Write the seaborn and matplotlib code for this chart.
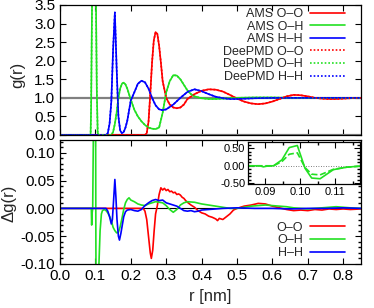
import numpy as np
import pandas as pd
import matplotlib
matplotlib.use("Agg")
import matplotlib.pyplot as plt
from matplotlib.ticker import MultipleLocator, FormatStrFormatter
import seaborn as sns

# --- g(r) of AMS (DeePMD curves lie on top of these) ---
r_oo = [0.0, 0.24, 0.245, 0.25, 0.255, 0.26, 0.265, 0.27, 0.275, 0.28, 0.285, 0.29, 0.30,
        0.31, 0.32, 0.33, 0.34, 0.35, 0.36, 0.38, 0.40, 0.42, 0.44, 0.46, 0.48, 0.50, 0.52,
        0.54, 0.56, 0.58, 0.60, 0.62, 0.64, 0.66, 0.68, 0.70, 0.72, 0.74, 0.76, 0.78, 0.80,
        0.82, 0.85]
g_oo = [0.0, 0.0, 0.05, 0.35, 1.1, 1.95, 2.55, 2.77, 2.72, 2.4, 1.95, 1.45, 1.0,
        0.82, 0.74, 0.72, 0.74, 0.82, 0.97, 1.1, 1.19, 1.23, 1.22, 1.17, 1.08, 0.98, 0.9,
        0.85, 0.83, 0.85, 0.9, 0.97, 1.04, 1.08, 1.07, 1.04, 1.0, 0.98, 0.97, 0.97, 0.98,
        0.99, 1.0]

r_oh = [0.0, 0.085, 0.0865, 0.088, 0.0905, 0.093, 0.096, 0.098, 0.1, 0.102, 0.104, 0.1065,
        0.11, 0.145, 0.15, 0.155, 0.16, 0.165, 0.17, 0.175, 0.18, 0.185, 0.19, 0.195, 0.20,
        0.21, 0.22, 0.23, 0.24, 0.25, 0.26, 0.27, 0.28, 0.29, 0.30, 0.31, 0.32, 0.33, 0.34,
        0.35, 0.36, 0.37, 0.38, 0.40, 0.42, 0.44, 0.46, 0.48, 0.50, 0.55, 0.60, 0.65, 0.70,
        0.75, 0.80, 0.85]
g_oh = [0.0, 0.0, 0.02, 0.8, 3.5, 9.0, 14.0, 14.5, 10.0, 3.2, 1.2, 0.05,
        0.0, 0.0, 0.08, 0.3, 0.6, 1.0, 1.25, 1.38, 1.41, 1.36, 1.25, 1.1, 0.95,
        0.68, 0.5, 0.37, 0.27, 0.2, 0.17, 0.16, 0.2, 0.6, 1.15, 1.45, 1.61, 1.6, 1.5,
        1.35, 1.2, 1.1, 1.04, 0.99, 0.97, 0.97, 0.98, 0.99, 1.0, 1.01, 1.01, 1.0, 1.0,
        1.0, 1.0, 1.0]

r_hh = [0.0, 0.13, 0.135, 0.14, 0.145, 0.15, 0.155, 0.16, 0.165, 0.17, 0.175, 0.18, 0.185,
        0.19, 0.20, 0.21, 0.22, 0.23, 0.24, 0.25, 0.26, 0.27, 0.28, 0.29, 0.30, 0.32, 0.34,
        0.36, 0.38, 0.40, 0.42, 0.44, 0.46, 0.48, 0.50, 0.55, 0.60, 0.65, 0.70, 0.75, 0.80,
        0.85]
g_hh = [0.0, 0.0, 0.05, 0.3, 0.9, 2.3, 3.3, 1.8, 0.5, 0.12, 0.05, 0.08, 0.2,
        0.38, 0.93, 1.15, 1.38, 1.46, 1.42, 1.25, 1.0, 0.8, 0.69, 0.67, 0.69, 0.82, 1.0,
        1.16, 1.23, 1.18, 1.1, 1.03, 0.99, 0.97, 0.97, 0.99, 1.0, 1.0, 1.0, 1.0, 1.0,
        1.0]

# --- delta g(r) ---
r_doo = [0.0, 0.23, 0.235, 0.24, 0.245, 0.25, 0.255, 0.258, 0.262, 0.266, 0.27, 0.275, 0.28,
         0.285, 0.29, 0.295, 0.30, 0.305, 0.31, 0.315, 0.32, 0.325, 0.33, 0.335, 0.34, 0.345,
         0.35, 0.355, 0.36, 0.37, 0.38, 0.39, 0.40, 0.41, 0.42, 0.43, 0.44, 0.445, 0.45, 0.46,
         0.47, 0.48, 0.49, 0.50, 0.52, 0.54, 0.56, 0.58, 0.60, 0.62, 0.64, 0.66, 0.68, 0.70,
         0.72, 0.74, 0.76, 0.78, 0.80, 0.82, 0.85]
dg_oo = [0.0, 0.0, 0.0, -0.005, -0.02, -0.05, -0.08, -0.09, -0.075, -0.04, -0.01, 0.005, 0.025,
         0.037, 0.033, 0.036, 0.032, 0.034, 0.03, 0.031, 0.028, 0.029, 0.025, 0.026, 0.024, 0.02,
         0.018, 0.014, 0.011, 0.006, 0.002, -0.004, -0.008, -0.01, -0.014, -0.016, -0.019, -0.022,
         -0.018, -0.02, -0.015, -0.01, -0.003, 0.0, 0.004, 0.006, 0.009, 0.008, 0.004, 0.001,
         -0.002, -0.004, -0.003, -0.004, -0.002, -0.003, -0.001, -0.002, -0.001, -0.002, -0.001]

r_doh = [0.0, 0.085, 0.0885, 0.0895, 0.0905, 0.0924, 0.0948, 0.0969, 0.0992, 0.1014, 0.1033,
         0.1057, 0.1095, 0.1133, 0.117, 0.12, 0.125, 0.13, 0.135, 0.14, 0.145, 0.15, 0.155,
         0.16, 0.165, 0.17, 0.175, 0.18, 0.185, 0.19, 0.195, 0.20, 0.21, 0.22, 0.23, 0.24,
         0.25, 0.26, 0.27, 0.28, 0.29, 0.30, 0.31, 0.32, 0.33, 0.34, 0.35, 0.36, 0.38, 0.40,
         0.42, 0.44, 0.46, 0.48, 0.50, 0.52, 0.54, 0.56, 0.58, 0.60, 0.62, 0.64, 0.66, 0.68,
         0.70, 0.72, 0.74, 0.76, 0.78, 0.80, 0.82, 0.85]
dg_oh = [0.0, 0.0, 0.0, -0.03, -0.01, 0.0, 0.17, 0.52, 0.58, -0.07, -0.35,
         -0.37, -0.11, -0.04, -0.01, -0.004, -0.002, -0.004, -0.008, -0.014, -0.022, -0.034, -0.04,
         -0.044, -0.043, -0.033, -0.018, -0.002, 0.01, 0.016, 0.019, 0.015, 0.012, 0.008, 0.006, 0.005,
         0.008, 0.01, 0.012, 0.011, 0.01, 0.005, -0.002, -0.007, -0.002, 0.006, 0.01, 0.012, 0.011, 0.008,
         0.006, 0.004, 0.002, 0.0, 0.0, 0.002, 0.004, 0.005, 0.006, 0.005, 0.004, 0.003, 0.001, 0.0,
         -0.001, 0.0, 0.001, 0.002, 0.003, 0.002, 0.001, 0.0]

r_dhh = [0.0, 0.13, 0.135, 0.14, 0.145, 0.148, 0.151, 0.155, 0.158, 0.161, 0.165, 0.168, 0.172,
         0.176, 0.18, 0.185, 0.19, 0.20, 0.21, 0.22, 0.23, 0.24, 0.25, 0.26, 0.27, 0.28, 0.29,
         0.30, 0.31, 0.32, 0.33, 0.34, 0.35, 0.36, 0.37, 0.38, 0.39, 0.40, 0.42, 0.44, 0.46,
         0.50, 0.55, 0.60, 0.65, 0.70, 0.75, 0.80, 0.85]
dg_hh = [0.0, 0.0, -0.005, -0.015, -0.028, -0.02, 0.01, 0.052, 0.02, -0.02, -0.05, -0.057, -0.045,
         -0.03, -0.015, -0.006, -0.003, -0.002, -0.004, -0.005, -0.002, 0.005, 0.01, 0.014, 0.016,
         0.014, 0.015, 0.01, 0.008, 0.006, 0.004, 0.0, -0.004, -0.005, -0.004, -0.006, -0.005,
         -0.003, -0.002, -0.001, 0.0, 0.001, 0.0, 0.0, -0.001, 0.0, 0.0, 0.001, 0.0]

# inset: second (dashed) O-H difference
r_inset = [0.085, 0.0924, 0.0948, 0.0969, 0.0992, 0.1014, 0.1033, 0.1057, 0.1095, 0.1133, 0.117]
dg_oh_dash = [0.0, 0.0, 0.12, 0.33, 0.37, -0.05, -0.24, -0.26, -0.1, -0.04, -0.01]

RED, GREEN, BLUE = "#ff0000", "#22e022", "#0000ff"

sns.set_theme(style="ticks")
plt.rcParams["font.family"] = ["Liberation Sans", "DejaVu Sans"]
plt.rcParams.update({
    "font.size": 9,
    "xtick.direction": "in", "ytick.direction": "in",
    "xtick.top": True, "ytick.right": True,
    "xtick.major.size": 4, "ytick.major.size": 4,
    "xtick.minor.size": 2, "ytick.minor.size": 2,
    "xtick.major.width": 0.8, "ytick.major.width": 0.8,
    "axes.linewidth": 0.9, "axes.edgecolor": "black",
    "xtick.color": "black", "ytick.color": "black",
    "axes.unicode_minus": True,
})

fig = plt.figure(figsize=(3.74, 3.08), dpi=100)
ax1 = fig.add_axes([0.1604, 0.5617, 0.8046, 0.4221])
ax2 = fig.add_axes([0.1604, 0.1429, 0.8046, 0.4026])

# top panel
ax1.axhline(1.0, color="#808080", lw=1.6, zorder=1)
ax1.axhline(0.0, color="#808080", lw=1.6, zorder=1)
series = [("O\u2013O", r_oo, g_oo, RED), ("O\u2013H", r_oh, g_oh, GREEN), ("H\u2013H", r_hh, g_hh, BLUE)]
for name, r, g, c in series:
    sns.lineplot(x=r, y=g, ax=ax1, color=c, lw=1.2, label=f"AMS {name}", estimator=None)
for name, r, g, c in series:
    sns.lineplot(x=r, y=g, ax=ax1, color=c, lw=1.2, ls=(0, (1, 1.2)), label=f"DeePMD {name}",
                 estimator=None)
ax1.set_xlim(0, 0.85)
ax1.set_ylim(0, 3.5)
ax1.xaxis.set_major_locator(MultipleLocator(0.1))
ax1.yaxis.set_major_locator(MultipleLocator(0.5))
ax1.yaxis.set_major_formatter(FormatStrFormatter("%.1f"))
ax1.tick_params(labelbottom=False)
ax1.set_xlabel("")
ax1.set_ylabel("g(r)")
ax1.yaxis.set_label_coords(-0.116, 0.46)
ax1.legend(loc="upper right", bbox_to_anchor=(0.947, 0.977), frameon=False, markerfirst=False,
           borderpad=0, borderaxespad=0, handlelength=2.8, handletextpad=0.55,
           labelspacing=0.05, fontsize=9)

# bottom panel
ax2.axhline(0.0, color="black", lw=0.8, zorder=1)
dseries = [("O\u2013O", r_doo, dg_oo, RED), ("O\u2013H", r_doh, dg_oh, GREEN), ("H\u2013H", r_dhh, dg_hh, BLUE)]
for name, r, d, c in dseries:
    sns.lineplot(x=r, y=d, ax=ax2, color=c, lw=1.2, label=name, estimator=None)
ax2.set_xlim(0, 0.85)
ax2.set_ylim(-0.1, 0.123)
ax2.xaxis.set_major_locator(MultipleLocator(0.1))
ax2.xaxis.set_major_formatter(FormatStrFormatter("%.1f"))
ax2.yaxis.set_major_locator(MultipleLocator(0.05))
ax2.yaxis.set_minor_locator(MultipleLocator(0.01))
ax2.yaxis.set_major_formatter(FormatStrFormatter("%.2f"))
ax2.set_xlabel("r [nm]")
ax2.xaxis.set_label_coords(0.5, -0.2)
ax2.set_ylabel("\u0394g(r)")
ax2.yaxis.set_label_coords(-0.143, 0.49)
ax2.legend(loc="lower right", bbox_to_anchor=(0.947, 0.04), frameon=False, markerfirst=False,
           borderpad=0, borderaxespad=0, handlelength=2.8, handletextpad=0.55,
           labelspacing=0.05, fontsize=9)

# inset
axi = fig.add_axes([0.663, 0.4026, 0.2995, 0.1364])
axi.axhline(0.0, color="#555555", lw=0.6, ls=(0, (1, 2)), zorder=1)
sns.lineplot(x=r_doh, y=dg_oh, ax=axi, color=GREEN, lw=1.2, estimator=None)
sns.lineplot(x=r_inset, y=dg_oh_dash, ax=axi, color=GREEN, lw=1.2, ls="--", estimator=None)
axi.set_xlim(0.0851, 0.1171)
axi.set_ylim(-0.52, 0.68)
axi.xaxis.set_major_locator(MultipleLocator(0.01))
axi.xaxis.set_minor_locator(MultipleLocator(0.005))
axi.xaxis.set_major_formatter(FormatStrFormatter("%.2f"))
axi.yaxis.set_major_locator(MultipleLocator(0.5))
axi.yaxis.set_minor_locator(MultipleLocator(0.1))
axi.yaxis.set_major_formatter(FormatStrFormatter("%.2f"))
axi.tick_params(labelsize=8, pad=2)
axi.set_xlabel("")
axi.set_ylabel("")

fig.savefig("out.png", dpi=100)
